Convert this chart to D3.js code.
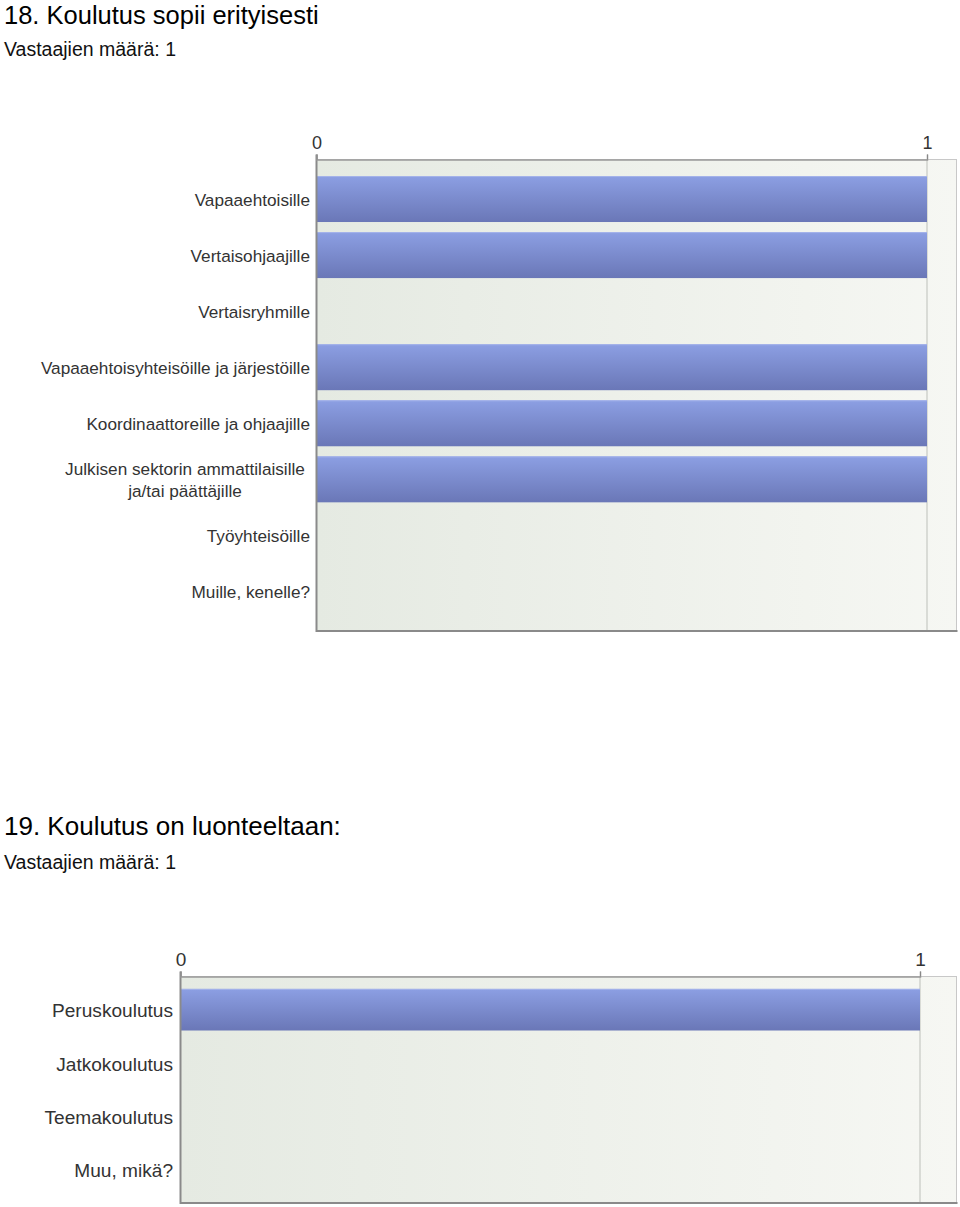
<!DOCTYPE html>
<html>
<head>
<meta charset="utf-8">
<script src="https://d3js.org/d3.v7.min.js"></script>
<style>
  body { margin: 0; background: #fff; font-family: "Liberation Sans", Arial, sans-serif; }
  svg text { fill: #333; }
</style>
</head>
<body>
<svg id="chart" width="960" height="1207"></svg>
<script>
// Kysymys 18
const title18 = "18. Koulutus sopii erityisesti"
const resp18 = "Vastaajien määrä: 1"
const cats18 = [
  ["Vapaaehtoisille"],
  ["Vertaisohjaajille"],
  ["Vertaisryhmille"],
  ["Vapaaehtoisyhteisöille ja järjestöille"],
  ["Koordinaattoreille ja ohjaajille"],
  ["Julkisen sektorin ammattilaisille", "ja/tai päättäjille"],
  ["Työyhteisöille"],
  ["Muille, kenelle?"]
]
const vals18 = [1, 1, 0, 1, 1, 1, 0, 0]

// Kysymys 19
const title19 = "19. Koulutus on luonteeltaan:"
const resp19 = "Vastaajien määrä: 1"
const cats19 = [["Peruskoulutus"], ["Jatkokoulutus"], ["Teemakoulutus"], ["Muu, mikä?"]]
const vals19 = [1, 0, 0, 0]

const ticks = [0, 1]

const svg = d3.select("#chart")
const defs = svg.append("defs")

const bg = defs.append("linearGradient").attr("id", "bg").attr("x1", 0).attr("x2", 1).attr("y1", 0).attr("y2", 0)
bg.append("stop").attr("offset", "0%").attr("stop-color", "#e5eae2")
bg.append("stop").attr("offset", "100%").attr("stop-color", "#f6f7f3")

const bar = defs.append("linearGradient").attr("id", "bar").attr("x1", 0).attr("x2", 0).attr("y1", 0).attr("y2", 1)
bar.append("stop").attr("offset", "0%").attr("stop-color", "#8c9fe3")
bar.append("stop").attr("offset", "100%").attr("stop-color", "#6a77b7")

function drawChart(opt) {
  const g = svg.append("g")
  g.append("text").attr("x", 4).attr("y", opt.titleY).style("font-size", opt.titleSize + "px").style("fill", "#000").text(opt.title)
  g.append("text").attr("x", 4).attr("y", opt.respY).style("font-size", "19.5px").style("fill", "#111").text(opt.resp)

  const x = d3.scaleLinear().domain([0, 1]).range([opt.left, opt.xOne])
  const y = d3.scaleBand().domain(d3.range(opt.cats.length))
    .range([opt.top + opt.pad, opt.bottom - opt.pad]).paddingInner(opt.inner).paddingOuter(opt.inner / 2)

  // plot background
  g.append("rect").attr("x", opt.left).attr("y", opt.top)
    .attr("width", opt.right - opt.left).attr("height", opt.bottom - opt.top)
    .attr("fill", "url(#bg)").attr("stroke", "#c8c8c8").attr("stroke-width", 1)

  // gridline at 1
  g.append("line").attr("x1", x(1)).attr("x2", x(1)).attr("y1", opt.top).attr("y2", opt.bottom)
    .attr("stroke", "#cfd2cc").attr("stroke-width", 1.5)

  // bars
  g.selectAll("rect.bar").data(opt.vals).join("rect").attr("class", "bar")
    .attr("x", opt.left).attr("y", (d, i) => y(i))
    .attr("width", d => x(d) - x(0)).attr("height", y.bandwidth())
    .attr("fill", "url(#bar)")
  g.selectAll("line.hl").data(opt.vals).join("line").attr("class", "hl")
    .attr("x1", opt.left).attr("x2", d => x(d)).attr("y1", (d, i) => y(i) + 0.5).attr("y2", (d, i) => y(i) + 0.5)
    .attr("stroke", "#a5b3ea").attr("stroke-width", d => d > 0 ? 1 : 0)

  // axes lines
  g.append("line").attr("x1", opt.left).attr("x2", opt.left).attr("y1", opt.top - 5).attr("y2", opt.bottom + 1)
    .attr("stroke", "#8a8a8a").attr("stroke-width", 2)
  g.append("line").attr("x1", opt.left).attr("x2", opt.right + 1).attr("y1", opt.bottom).attr("y2", opt.bottom)
    .attr("stroke", "#8a8a8a").attr("stroke-width", 2)

  // top axis
  const axis = d3.axisTop(x).tickValues(ticks).tickFormat(d3.format("d")).tickSize(5).tickPadding(6)
  const ag = g.append("g").attr("transform", `translate(0,${opt.top})`).call(axis)
  ag.select(".domain").attr("stroke", "#999").attr("stroke-width", 1.5)
  ag.selectAll(".tick line").attr("stroke", "#888")
  ag.selectAll(".tick text").style("font-size", opt.tickSize + "px").style("fill", "#333").attr("font-family", "Liberation Sans, Arial, sans-serif")

  // category labels
  opt.cats.forEach((lines, i) => {
    const cy = y(i) + y.bandwidth() / 2
    const multi = lines.length > 1
    const t = g.append("text")
      .attr("text-anchor", multi ? "middle" : "end")
      .style("font-size", opt.labelSize + "px")
    lines.forEach((ln, j) => {
      t.append("tspan").attr("x", multi ? opt.labelX - 125 : opt.labelX)
        .attr("y", cy + 1 + (j - (lines.length - 1) / 2) * opt.lineH)
        .attr("dy", "0.35em").text(ln)
    })
  })
}

drawChart({
  title: title18, resp: resp18, cats: cats18, vals: vals18,
  titleY: 24, titleSize: 25.5, respY: 56,
  left: 316.5, right: 956.5, top: 159.5, bottom: 631, xOne: 927,
  pad: 11.5, inner: 0.18, labelX: 310, labelSize: 17.2, lineH: 22, tickSize: 18
})

drawChart({
  title: title19, resp: resp19, cats: cats19, vals: vals19,
  titleY: 835, titleSize: 26, respY: 869,
  left: 180.5, right: 956.5, top: 976.5, bottom: 1203, xOne: 920,
  pad: 6.5, inner: 0.22, labelX: 173, labelSize: 19.1, lineH: 22, tickSize: 19
})
</script>
</body>
</html>
